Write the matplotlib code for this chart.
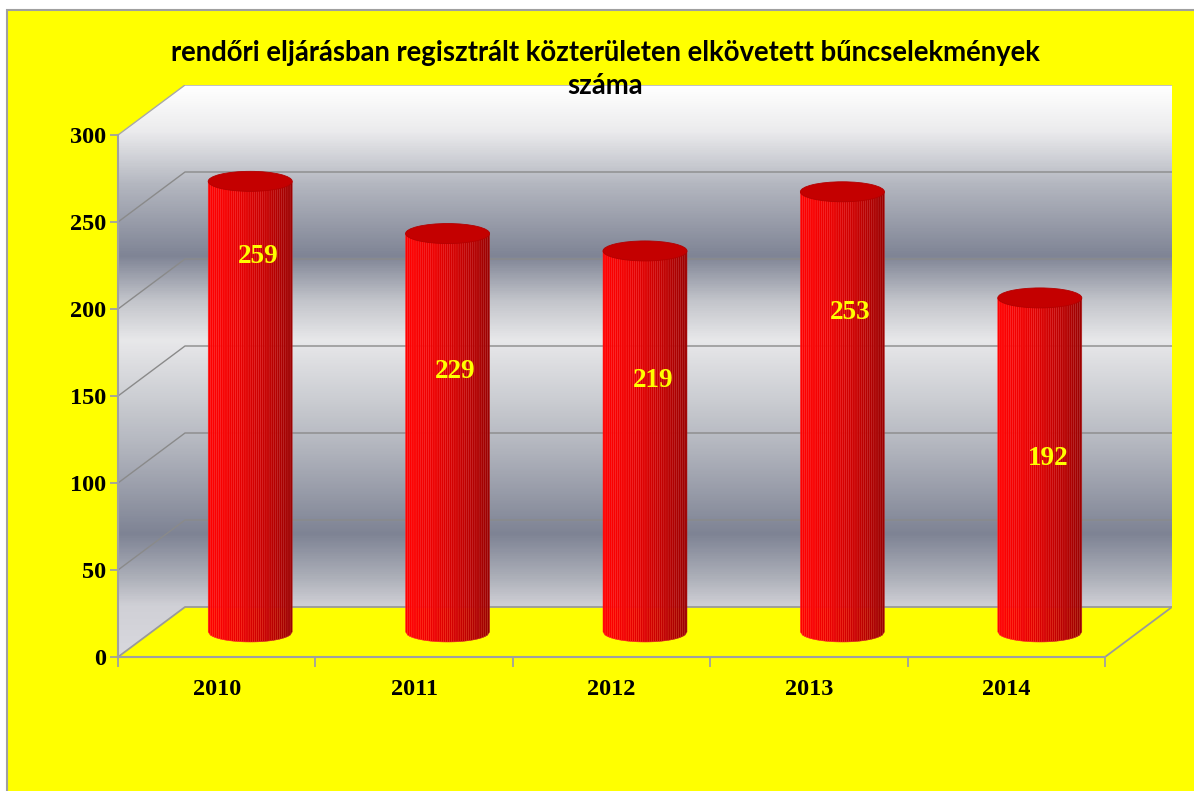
import numpy as np
import matplotlib
matplotlib.use("Agg")
import matplotlib.pyplot as plt
from matplotlib.patches import Polygon, Ellipse, Rectangle
from matplotlib.colors import LinearSegmentedColormap
from matplotlib.collections import PolyCollection

years = ["2010", "2011", "2012", "2013", "2014"]
counts = [259, 229, 219, 253, 192]
y_ticks = [0, 50, 100, 150, 200, 250, 300]
title = "rendőri eljárásban regisztrált közterületen elkövetett bűncselekmények\nszáma"

# where Excel put the value labels on the cylinders (axis units)
label_y = [230, 164, 159, 198, 114]

DX, DY = 0.3394, 28.74   # depth offset of the back wall
YMAX = 300
n = len(years)
serif = "Liberation Serif"

fig = plt.figure(figsize=(11.94, 7.91), dpi=100)
fig.patch.set_facecolor("white")
fig.add_artist(Rectangle((7 / 1194, -0.1), 1.2, 781 / 791 + 0.1,
                         transform=fig.transFigure, facecolor="#ffff00",
                         edgecolor="#a0a0a0", lw=1.5, zorder=0))

ax = fig.add_axes([118 / 1194, (791 - 657) / 791, (1172 - 118) / 1194, (657 - 85) / 791])
ax.patch.set_visible(False)

# wall gradient (grey bands like the Excel fill)
stops = [(0, "#d8d8de"), (28.7, "#d0d0d6"), (44.3, "#aeb1ba"), (70.1, "#7e8394"),
         (119, "#b1b4bd"), (147.7, "#cbcdd2"), (182.2, "#e8e8ea"), (205.2, "#c2c4ca"),
         (231, "#7f8495"), (272.4, "#b4b7c0"), (302.9, "#ebebed"), (YMAX + DY, "#ffffff")]
wall_cmap = LinearSegmentedColormap.from_list("wall", [(v / (YMAX + DY), c) for v, c in stops])
grad = np.linspace(0, 1, 600).reshape(-1, 1)
im = ax.imshow(grad, cmap=wall_cmap, origin="lower", extent=(0, n + DX, 0, YMAX + DY),
               aspect="auto", zorder=1, interpolation="bilinear")
wall = Polygon([(0, 0), (DX, DY), (n + DX, DY), (n + DX, YMAX + DY), (DX, YMAX + DY), (0, YMAX)],
               closed=True, facecolor="none", edgecolor="none")
ax.add_patch(wall)
im.set_clip_path(wall)

# floor
ax.add_patch(Polygon([(0, 0), (n, 0), (n + DX, DY), (DX, DY)], closed=True,
                     facecolor="#ffff00", edgecolor="none", zorder=2))

# gridlines on side and back wall
for v in y_ticks[1:]:
    c = "#a8a8a8" if v == YMAX else "#8a8a8a"
    ax.plot([0, DX, n + DX], [v, v + DY, v + DY], color=c, lw=1, zorder=3)
ax.plot([0, DX, n + DX], [0, DY, DY], color="#9a9a9a", lw=1.3, zorder=3)
ax.plot([n, n + DX], [0, DY], color="#9a9a9a", lw=1.3, zorder=3)

# cylinders
rx, ry = 0.2128, 5.75
k = 40
us = np.linspace(-1, 1, k + 1)
for i, v in enumerate(counts):
    cx = i + 0.5 + DX / 2
    base = DY / 2
    top = base + v
    polys, faces, edges = [], [], []
    for j in range(k):
        u0, u1 = us[j], us[j + 1]
        x0, x1 = cx + rx * u0, cx + rx * u1
        polys.append([(x0, base - ry * np.sqrt(1 - u0 ** 2)),
                      (x1, base - ry * np.sqrt(1 - u1 ** 2)),
                      (x1, top), (x0, top)])
        t = (0.5 * (u0 + u1) + 1) / 2
        r = 1.0 - 0.4 * t ** 1.4
        faces.append((r, 0, 0))
        edges.append((min(1, r + 0.1), 0.16, 0.16))
    ax.add_collection(PolyCollection(polys, facecolors=faces, edgecolors=edges,
                                     linewidths=0.35, zorder=4))
    ax.add_patch(Ellipse((cx, top), 2 * rx, 2 * ry, facecolor="#c40000",
                         edgecolor="#b40000", lw=0.6, zorder=5))
    ax.text(cx + 0.04, label_y[i], str(v), color="#ffff00", fontsize=19.5,
            fontweight="bold", family=serif, ha="center", va="center", zorder=6)

ax.set_xlim(0, n + DX)
ax.set_ylim(0, YMAX + DY)

for s in ["top", "right"]:
    ax.spines[s].set_visible(False)
ax.spines["left"].set_bounds(0, YMAX)
ax.spines["bottom"].set_bounds(0, n)
for s in ["left", "bottom"]:
    ax.spines[s].set_color("#a0a0a0")
    ax.spines[s].set_linewidth(1.5)
    ax.spines[s].set_zorder(7)

ax.set_yticks(y_ticks)
ax.set_yticklabels([str(t) for t in y_ticks], fontsize=17.5, fontweight="bold", family=serif)
ax.tick_params(axis="y", length=5.8, width=1.3, color="#a0a0a0", pad=3)

ax.set_xticks(range(n + 1))
ax.set_xticklabels([])
ax.set_xticks([i + 0.5 for i in range(n)], minor=True)
ax.set_xticklabels(years, minor=True, fontsize=17.5, fontweight="bold", family=serif)
ax.tick_params(axis="x", which="major", length=7.2, width=1.3, color="#a0a0a0")
ax.tick_params(axis="x", which="minor", length=0, pad=15.5)

fig.text(0.507, 1 - 69.5 / 791, title, ha="center", va="center", fontsize=19.8,
         fontweight="bold", family="Lato", linespacing=1.33, color="black")

fig.savefig("out.png", dpi=100)
